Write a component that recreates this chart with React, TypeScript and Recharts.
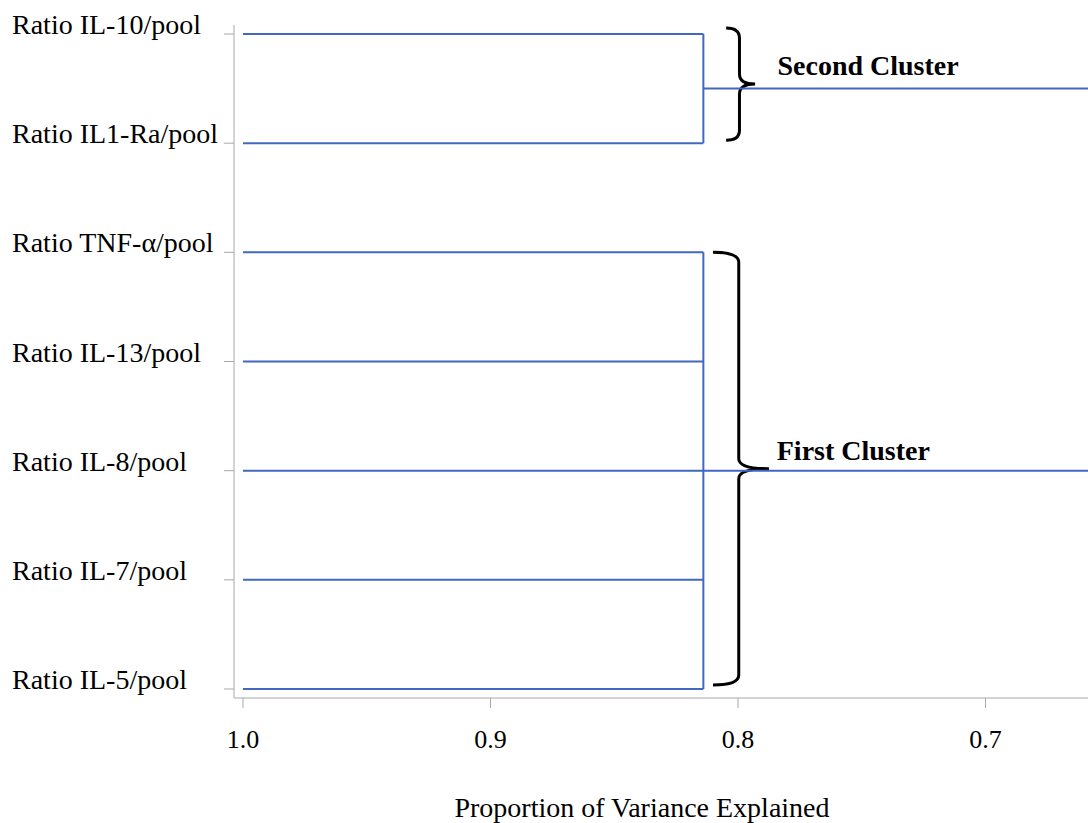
import React from "react";
import { ComposedChart, Line, XAxis, YAxis, ReferenceArea } from "recharts";

// leaves, top to bottom
const leafLabels = [
  "Ratio IL-10/pool",
  "Ratio IL1-Ra/pool",
  "Ratio TNF-α/pool",
  "Ratio IL-13/pool",
  "Ratio IL-8/pool",
  "Ratio IL-7/pool",
  "Ratio IL-5/pool",
];

const clusterNames = ["Second Cluster", "First Cluster"];
const clusterFirstLeaf = [0, 2];
const clusterLastLeaf = [1, 6];
const clusterJoin = [0.814, 0.814];

// brace annotations (data units)
const braceTop = [-0.055, 2.0];
const braceBottom = [0.973, 5.963];
const braceHook = [0.8048, 0.8101];
const braceTip = [0.7931, 0.7875];

const xTicks = [1.0, 0.9, 0.8, 0.7];
const leafStart = 1.0;
const xMin = 0.6586;

const FONT = '"Liberation Serif", "Times New Roman", serif';
const BLUE = "#4167c2";
const GRAY = "#a8a8a8";

type Pt = { x: number; y: number };
const links: Pt[][] = [];
clusterNames.forEach((_, c) => {
  const a = clusterFirstLeaf[c];
  const b = clusterLastLeaf[c];
  const j = clusterJoin[c];
  for (let i = a; i <= b; i++) {
    links.push([{ x: leafStart, y: i }, { x: j, y: i }]);
  }
  links.push([{ x: j, y: a }, { x: j, y: b }]);
  links.push([{ x: j, y: (a + b) / 2 }, { x: xMin, y: (a + b) / 2 }]);
});

const LeafTick = (props: any) => {
  const { y, payload } = props;
  return (
    <text x={12} y={y} fontSize={28} fontFamily={FONT} fill="#000">
      {leafLabels[payload.value]}
    </text>
  );
};

const Brace = (props: any) => {
  const { x, y, width, height, label } = props;
  const spine = x + width * 0.46;
  const tip = x + width;
  const mid = y + height / 2;
  const r = 10;
  const d =
    `M${x},${y} Q${spine},${y} ${spine},${y + r} ` +
    `L${spine},${mid - r} Q${spine},${mid} ${tip},${mid} ` +
    `Q${spine},${mid} ${spine},${mid + r} ` +
    `L${spine},${y + height - r} Q${spine},${y + height} ${x},${y + height}`;
  return (
    <g>
      <path d={d} fill="none" stroke="#000" strokeWidth={3} />
      <text
        x={spine + 38}
        y={mid - 9}
        fontSize={28}
        fontWeight="bold"
        fontFamily={FONT}
        fill="#000"
      >
        {label}
      </text>
    </g>
  );
};

export default function App() {
  return (
    <div style={{ position: "absolute", left: 0, top: 0, background: "#fff" }}>
      <ComposedChart
        width={1088}
        height={823}
        margin={{ top: 25, right: 0, bottom: 0, left: 0 }}
      >
        <XAxis
          dataKey="x"
          type="number"
          domain={[xMin, 1.0]}
          reversed
          allowDataOverflow
          ticks={xTicks}
          tickFormatter={(v) => Number(v).toFixed(1)}
          padding={{ left: 9, right: 0 }}
          height={125}
          tickSize={10}
          tickMargin={22}
          stroke={GRAY}
          tick={{ fontSize: 26, fill: "#000", fontFamily: FONT }}
          label={{
            value: "Proportion of Variance Explained",
            position: "insideBottom",
            offset: 6,
            dx: -19,
            fontSize: 28,
            fill: "#000",
            fontFamily: FONT,
          }}
        />
        <XAxis
          xAxisId="top"
          orientation="top"
          type="number"
          domain={[xMin, 1.0]}
          reversed
          height={0}
          tick={false}
          tickLine={false}
          stroke={GRAY}
        />
        <YAxis
          dataKey="y"
          type="number"
          domain={[0, 6]}
          reversed
          ticks={[0, 1, 2, 3, 4, 5, 6]}
          interval={0}
          padding={{ top: 9, bottom: 9 }}
          width={234}
          tickSize={10}
          stroke={GRAY}
          tick={<LeafTick />}
        />
        {links.map((pts, k) => (
          <Line
            key={k}
            data={pts}
            dataKey="y"
            type="linear"
            stroke={BLUE}
            strokeWidth={2}
            dot={false}
            activeDot={false}
            isAnimationActive={false}
          />
        ))}
        {clusterNames.map((name, c) => (
          <ReferenceArea
            key={name}
            x1={braceHook[c]}
            x2={braceTip[c]}
            y1={braceTop[c]}
            y2={braceBottom[c]}
            ifOverflow="visible"
            shape={(p: any) => <Brace {...p} label={name} />}
          />
        ))}
      </ComposedChart>
    </div>
  );
}
